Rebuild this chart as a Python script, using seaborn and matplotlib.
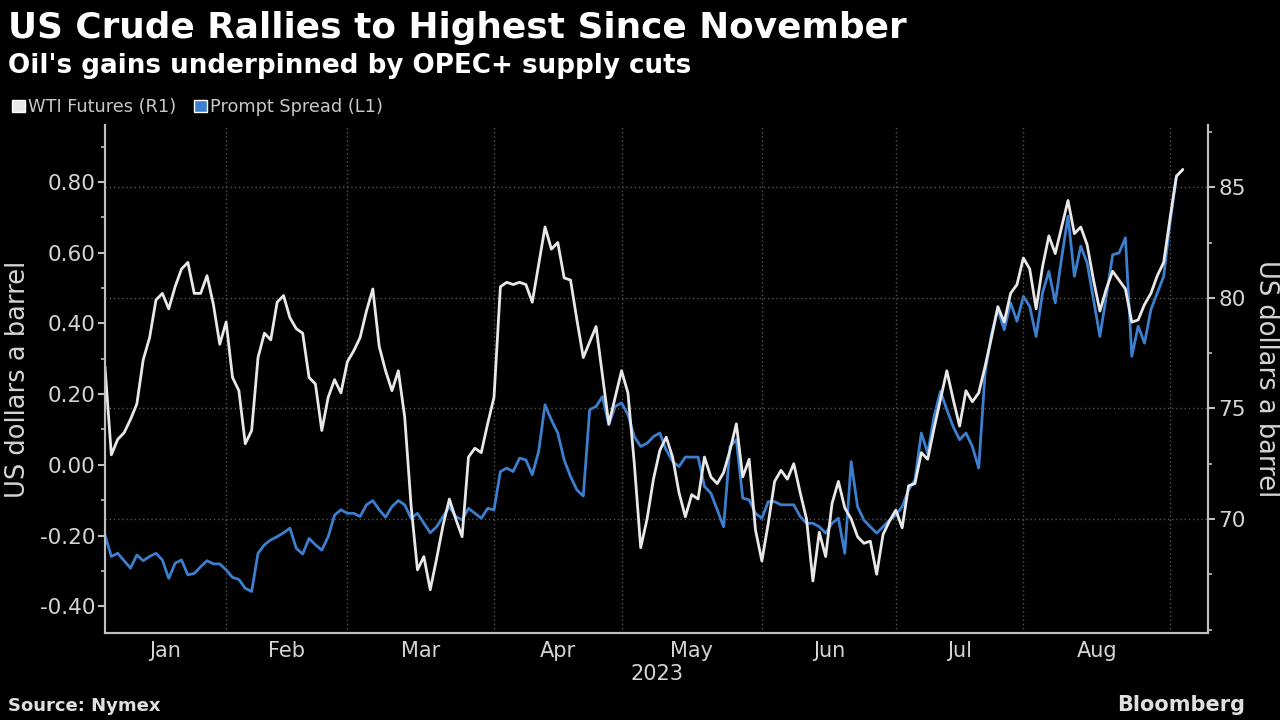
import numpy as np
import pandas as pd
import matplotlib
matplotlib.use("Agg")
import matplotlib.pyplot as plt
from matplotlib.patches import Patch
import seaborn as sns

# WTI front-month futures, USD/bbl (right axis), one value per trading day from early Jan 2023
wti = [76.9, 72.9, 73.6, 73.9, 74.5, 75.2, 77.2, 78.2, 79.9, 80.2,
       79.5, 80.5, 81.3, 81.6, 80.2, 80.2, 81.0, 79.7, 77.9, 78.9,
       76.4, 75.8, 73.4, 74.0, 77.3, 78.4, 78.1, 79.8, 80.1, 79.1,
       78.6, 78.4, 76.4, 76.1, 74.0, 75.5, 76.3, 75.7, 77.1, 77.6,
       78.2, 79.4, 80.4, 77.8, 76.7, 75.8, 76.7, 74.6, 70.6, 67.7,
       68.3, 66.8, 68.2, 69.7, 70.9, 70.0, 69.2, 72.8, 73.2, 73.0,
       74.3, 75.5, 80.5, 80.7, 80.6, 80.7, 80.6, 79.8, 81.5, 83.2,
       82.2, 82.5, 80.9, 80.8, 79.0, 77.3, 78.0, 78.7, 76.5, 74.3,
       75.5, 76.7, 75.7, 72.5, 68.7, 70.0, 71.8, 73.1, 73.7, 72.8,
       71.2, 70.1, 71.1, 70.9, 72.8, 71.9, 71.6, 72.1, 73.1, 74.3,
       71.9, 72.7, 69.5, 68.1, 69.8, 71.7, 72.2, 71.8, 72.5, 71.2,
       70.0, 67.2, 69.4, 68.3, 70.7, 71.7, 70.5, 70.0, 69.2, 68.9,
       69.0, 67.5, 69.3, 69.9, 70.4, 69.6, 71.5, 71.6, 73.0, 72.7,
       74.1, 75.4, 76.7, 75.4, 74.2, 75.8, 75.3, 75.7, 76.9, 78.2,
       79.6, 78.9, 80.2, 80.6, 81.8, 81.3, 79.5, 81.4, 82.8, 82.0,
       83.2, 84.4, 82.9, 83.2, 82.4, 80.8, 79.4, 80.4, 81.2, 80.8,
       80.4, 78.9, 79.0, 79.7, 80.2, 81.0, 81.6, 83.6, 85.5, 85.8]

# Prompt spread, USD/bbl (left axis)
spread = [-0.198, -0.259, -0.250, -0.271, -0.292, -0.255, -0.271, -0.259, -0.250, -0.269,
          -0.321, -0.278, -0.269, -0.311, -0.307, -0.288, -0.271, -0.280, -0.280, -0.297,
          -0.318, -0.324, -0.349, -0.358, -0.250, -0.226, -0.212, -0.203, -0.192, -0.179,
          -0.236, -0.252, -0.208, -0.226, -0.241, -0.203, -0.142, -0.127, -0.137, -0.137,
          -0.146, -0.113, -0.101, -0.127, -0.148, -0.118, -0.101, -0.113, -0.151, -0.137,
          -0.165, -0.192, -0.175, -0.146, -0.118, -0.146, -0.156, -0.123, -0.137, -0.151,
          -0.123, -0.127, -0.019, -0.009, -0.019, 0.019, 0.014, -0.028, 0.038, 0.170,
          0.127, 0.090, 0.014, -0.033, -0.071, -0.088, 0.156, 0.165, 0.193, 0.113,
          0.165, 0.175, 0.142, 0.080, 0.052, 0.061, 0.080, 0.090, 0.042, 0.010,
          -0.005, 0.022, 0.022, 0.022, -0.061, -0.080, -0.127, -0.175, 0.052, 0.071,
          -0.094, -0.099, -0.137, -0.151, -0.104, -0.104, -0.113, -0.113, -0.113, -0.146,
          -0.165, -0.165, -0.175, -0.193, -0.165, -0.151, -0.250, 0.009, -0.118, -0.156,
          -0.175, -0.193, -0.175, -0.156, -0.142, -0.118, -0.071, -0.042, 0.090, 0.033,
          0.137, 0.208, 0.156, 0.108, 0.071, 0.090, 0.052, -0.009, 0.260, 0.370,
          0.439, 0.382, 0.458, 0.406, 0.476, 0.448, 0.363, 0.486, 0.547, 0.458,
          0.585, 0.703, 0.533, 0.618, 0.571, 0.467, 0.363, 0.476, 0.594, 0.599,
          0.642, 0.307, 0.392, 0.344, 0.439, 0.486, 0.533, 0.684, 0.816, 0.835]

months = ["Jan", "Feb", "Mar", "Apr", "May", "Jun", "Jul", "Aug"]
# trading-day index where each month starts (last entry = start of Sep)
month_start = [0, 19, 38, 61, 81, 103, 124, 144, 167]

df = pd.DataFrame({"day": np.arange(len(wti)), "wti": wti, "spread": spread})

sns.set_theme(style="dark")
plt.rcParams["font.family"] = ["DejaVu Sans"]

fg = "#d4d4d4"
grid_c = "#555555"
white_line = "#e8e8e8"
blue_line = "#3d7fcf"

fig = plt.figure(figsize=(12.8, 7.2), dpi=100, facecolor="black")
ax = fig.add_axes([0.082, 0.121, 0.862, 0.705], facecolor="black")
ax2 = ax.twinx()

sns.lineplot(data=df, x="day", y="spread", ax=ax, color=blue_line, linewidth=2)
sns.lineplot(data=df, x="day", y="wti", ax=ax2, color=white_line, linewidth=2)

ax.set_xlim(0, 173)
ax.set_ylim(-0.475, 0.96)
ax2.set_ylim(64.85, 87.8)

# x axis: boundaries as major ticks, month names centred in between
centers = [(a + b) / 2 for a, b in zip(month_start[:-1], month_start[1:])]
ax.set_xticks(month_start[1:])
ax.set_xticklabels([])
ax.set_xticks(centers, minor=True)
ax.set_xticklabels(months, minor=True)
ax.tick_params(axis="x", which="major", length=5, width=1.5, color="#bfbfbf", direction="inout")
ax.tick_params(axis="x", which="minor", length=0, labelsize=15, labelcolor=fg, pad=6)
ax.xaxis.grid(True, which="major", color=grid_c, linestyle=(0, (1, 2)), linewidth=1)
ax.set_xlabel("2023", color=fg, fontsize=15, labelpad=2)

# left axis
ax.set_yticks(np.arange(-0.4, 0.81, 0.2))
ax.set_yticklabels([f"{v:.2f}" for v in np.arange(-0.4, 0.81, 0.2)])
ax.set_yticks([-0.3, -0.1, 0.1, 0.3, 0.5, 0.7, 0.9], minor=True)
ax.tick_params(axis="y", which="major", length=5, width=1.5, color="#bfbfbf",
               labelsize=15.5, labelcolor=fg, pad=2, left=True)
ax.tick_params(axis="y", which="minor", length=3, width=1.2, color="#bfbfbf", left=True)
ax.yaxis.grid(False)
ax.set_ylabel("US dollars a barrel", color=fg, fontsize=18.5, labelpad=6)

# right axis
ax2.set_yticks([70, 75, 80, 85])
ax2.set_yticks([65, 67.5, 72.5, 77.5, 82.5, 87.5], minor=True)
ax2.tick_params(axis="y", which="major", length=5, width=1.5, color="#bfbfbf",
                labelsize=15.5, labelcolor=fg, pad=2, right=True)
ax2.tick_params(axis="y", which="minor", length=3, width=1.2, color="#bfbfbf", right=True)
ax2.yaxis.grid(True, which="major", color=grid_c, linestyle=(0, (1, 2)), linewidth=1)
ax2.set_axisbelow(True)
ax2.set_ylabel("US dollars a barrel", color=fg, fontsize=18.5, rotation=270, labelpad=24)
ax2.set_xlabel("")

for a in (ax, ax2):
    a.set_facecolor("none")
    for side in ("left", "right", "bottom"):
        a.spines[side].set_visible(True)
        a.spines[side].set_color("#bfbfbf")
        a.spines[side].set_linewidth(1.5)
    a.spines["top"].set_visible(False)
ax.set_facecolor("black")

fig.text(0.006, 0.947, "US Crude Rallies to Highest Since November", color="white",
         fontsize=25.8, fontweight="bold", va="baseline")
fig.text(0.006, 0.899, "Oil's gains underpinned by OPEC+ supply cuts", color="white",
         fontsize=18.8, fontweight="bold", va="baseline")

fig.legend(handles=[Patch(facecolor=white_line), Patch(facecolor=blue_line)],
           labels=["WTI Futures (R1)", "Prompt Spread (L1)"],
           loc="center left", bbox_to_anchor=(-0.003, 0.851), ncol=2, frameon=False,
           handlelength=0.7, handleheight=0.7, handletextpad=0.2, columnspacing=1.0,
           labelcolor="#c8c8c8", fontsize=12.8)

fig.text(0.006, 0.013, "Source: Nymex", color="#e0e0e0", fontsize=13, fontweight="bold",
         va="baseline")
fig.text(0.973, 0.013, "Bloomberg", color="#e0e0e0", fontsize=15, fontweight="bold",
         va="baseline", ha="right")

fig.savefig("out.png", dpi=100, facecolor="black")
